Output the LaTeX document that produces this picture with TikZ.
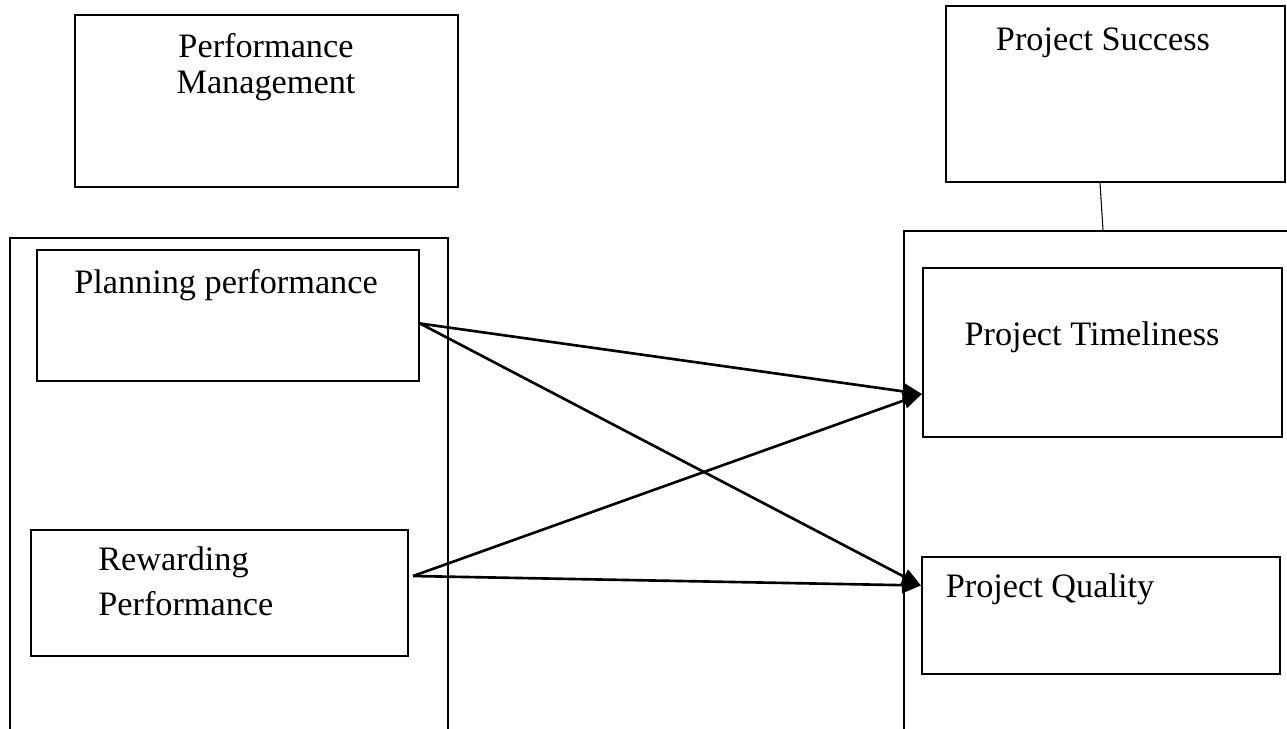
\documentclass[tikz,border=0pt]{standalone}
\usepackage{fontspec}
\setmainfont{Liberation Serif}
\usepackage{tikz}
\usetikzlibrary{arrows.meta,positioning}

\begin{document}
\begin{tikzpicture}[x=0.02cm,y=-0.02cm,
  box/.style={draw,rectangle,line width=1.2pt,inner sep=0pt},
  txt/.style={font=\fontsize{19.5}{20}\selectfont,inner sep=0pt,anchor=base},
  link/.style={-{Triangle[length=0.38cm,width=0.32cm]},line width=1.5pt}]

\clip (0,0) rectangle (1287,728);

% outer frames
\node[box,minimum width=8.76cm,minimum height=10.44cm] (Left)  at (229,499)    {};
\node[box,minimum width=7.92cm,minimum height=10.58cm] (Right) at (1102,495.5) {};

% heading boxes
\node[box,minimum width=7.66cm,minimum height=3.44cm] (PM) at (266.5,101)  {};
\node[box,minimum width=6.78cm,minimum height=3.52cm] (PS) at (1115.5,94)  {};

% inner boxes
\node[box,minimum width=7.64cm,minimum height=2.62cm] (Plan)   at (228,315.5)  {};
\node[box,minimum width=7.54cm,minimum height=2.52cm] (Reward) at (219.5,593)  {};
\node[box,minimum width=7.18cm,minimum height=3.38cm] (Time)   at (1102.5,352.5) {};
\node[box,minimum width=7.16cm,minimum height=2.34cm] (Qual)   at (1101,615.5) {};

% texts
\node[txt,align=center] (PMtext) at (266,93) {Performance\\Management};
\node[txt] (PStext) at (1103,50)  {Project Success};
\node[txt] (Pltext) at (226,293)  {Planning performance};
\node[txt] (Tmtext) at (1092,345) {Project Timeliness};
\node[txt,align=left,anchor=base west] (Rwtext) at (98,615) {Rewarding\\[5.6pt]Performance};
\node[txt] (Qutext) at (1050,597) {Project Quality};

\draw[line width=0.6pt] ([xshift=-0.31cm]PS.south) -- ([xshift=0.02cm]Right.north);

\path ([yshift=-0.16cm]Plan.east) edge[link] ([yshift=-0.83cm]Time.west)
      ([yshift=-0.16cm]Plan.east) edge[link] ([yshift=0.6cm]Qual.west)
      ([xshift=0.08cm,yshift=0.34cm]Reward.east) edge[link] ([yshift=-0.83cm]Time.west)
      ([xshift=0.08cm,yshift=0.34cm]Reward.east) edge[link] ([yshift=0.6cm]Qual.west);

\end{tikzpicture}
\end{document}
